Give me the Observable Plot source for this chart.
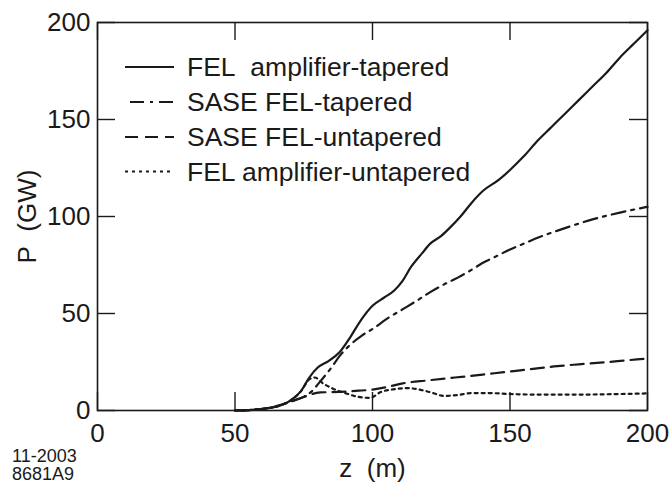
<!DOCTYPE html>
<html><head><meta charset="utf-8">
<script src="https://cdn.jsdelivr.net/npm/d3@7"></script>
<script src="https://cdn.jsdelivr.net/npm/@observablehq/plot@0.6"></script>
<style>
html,body{margin:0;padding:0;background:#fff;}
#wrap{width:670px;height:483px;}
</style></head><body>
<div id="wrap"></div>
<script>
// Series: FEL amplifier-tapered (solid)
const zAmpTap = [50,55,60,65,70,74,77,80,84,88,92,96,100,104,108,111,114,118,121,125,128,132,136,140,146,150,155,160,165,170,175,180,185,190,195,200];
const pAmpTap = [0,0.2,0.8,2.2,5,10,17,22,25.5,30,38,47,54,58,62,67,74,81,86,90,94,100,107,113,119,124,131,139,146,153,160,167,174,182,189,196];
// SASE FEL-tapered (dash-dot)
const zSaseTap = [50,55,60,65,70,75,78,81,85,88,92,96,100,106,112,116,121,126,131,136,140,145,150,155,160,170,180,190,200];
const pSaseTap = [0,0.2,0.8,2,4.5,7,10,15,22,28,34,38.5,42,48,53,56.5,61,65,68.5,72.5,76,79.5,83,86,89,94,98.5,102,105];
// SASE FEL-untapered (dashed)
const zSaseUn = [50,55,60,65,70,75,78,81,88,95,100,105,111,120,130,140,148,157,166,175,184,192,200];
const pSaseUn = [0,0.2,0.8,2,4.5,7,8.5,9.3,9.6,10.2,10.8,12,14,15.5,17,18.5,19.8,21.2,22.7,23.8,24.8,25.8,26.8];
// FEL amplifier-untapered (dotted)
const zAmpUn = [50,55,60,65,70,74,77,79,82,86,90,95,99,103,108,113,118,122,126,131,136,142,150,160,175,190,200];
const pAmpUn = [0,0.2,0.8,2,5,10,16,17,14,11,9,7,6.5,9.5,11,11.5,10.5,9,7.5,8,9,9,8.5,8.2,8.2,8.5,8.8];

const xTicks = [0,50,100,150,200];
const yTicks = [0,50,100,150,200];
const seriesNames = ["FEL\u00a0\u00a0amplifier-tapered","SASE FEL-tapered","SASE FEL-untapered","FEL amplifier-untapered"];
const seriesDash = [null,"14,6,3,6","13,7","3,4"];
const xLabel = "z\u00a0\u00a0(m)";
const yLabel = "P\u00a0\u00a0(GW)";
const captionLines = ["11-2003","8681A9"];

const toRows = (zs, ps) => zs.map((z, i) => ({z, p: ps[i]}));
const seriesData = [toRows(zAmpTap,pAmpTap), toRows(zSaseTap,pSaseTap), toRows(zSaseUn,pSaseUn), toRows(zAmpUn,pAmpUn)];

const ink = "#1a1a1a";
const W = 670, H = 483, mL = 97, mR = 23, mT = 22, mB = 73;
const fw = W - mL - mR, fh = H - mT - mB;
const tl = 18;
const marks = [
  Plot.frame({stroke: ink, strokeWidth: 1.6}),
  Plot.tickX(xTicks, {x: d => d, stroke: ink, strokeWidth: 1.4, insetTop: fh - tl}),
  Plot.tickX(xTicks, {x: d => d, stroke: ink, strokeWidth: 1.4, insetBottom: fh - tl}),
  Plot.tickY(yTicks, {y: d => d, stroke: ink, strokeWidth: 1.4, insetRight: fw - tl}),
  Plot.tickY(yTicks, {y: d => d, stroke: ink, strokeWidth: 1.4, insetLeft: fw - tl}),
  Plot.axisX({anchor: "bottom", ticks: xTicks, tickSize: 0, tickPadding: 13, label: xLabel, labelAnchor: "center", labelArrow: "none", labelOffset: 66, fill: ink}),
  Plot.axisY({anchor: "left", ticks: yTicks, tickSize: 0, tickPadding: 7, label: yLabel, labelAnchor: "center", labelArrow: "none", labelOffset: 80, fill: ink}),
];
seriesData.forEach((rows, i) => {
  const opts = {x: "z", y: "p", stroke: ink, strokeWidth: 2.2, curve: "monotone-x"};
  if (seriesDash[i]) opts.strokeDasharray = seriesDash[i];
  marks.push(Plot.line(rows, opts));
});

const chart = Plot.plot({
  width: W, height: H,
  marginLeft: mL, marginRight: mR, marginTop: mT, marginBottom: mB,
  x: {domain: [0, 200]},
  y: {domain: [0, 200]},
  style: {fontFamily: "'Liberation Sans', Arial, sans-serif", fontSize: "26px", color: ink, background: "#fff"},
  marks
});
document.getElementById("wrap").appendChild(chart);

// Legend and caption drawn inside the same SVG
const g = d3.select(chart).append("g").attr("class", "legend-caption")
  .attr("font-family", "'Liberation Sans', Arial, sans-serif").attr("text-anchor", "start");
const rowY = [67, 102, 137, 171.5];
seriesNames.forEach((name, i) => {
  const ln = g.append("line").attr("x1", i === 1 ? 130 : 125).attr("x2", 174).attr("y1", rowY[i]).attr("y2", rowY[i])
    .attr("stroke", ink).attr("stroke-width", 2.2);
  if (seriesDash[i]) ln.attr("stroke-dasharray", seriesDash[i]);
  g.append("text").attr("x", 187).attr("y", rowY[i] + 9).attr("font-size", 26.5).attr("fill", ink).text(name);
});
captionLines.forEach((t, i) => {
  g.append("text").attr("x", 12).attr("y", 462 + i * 18).attr("font-size", 18).attr("fill", ink).text(t);
});
</script>
</body></html>
